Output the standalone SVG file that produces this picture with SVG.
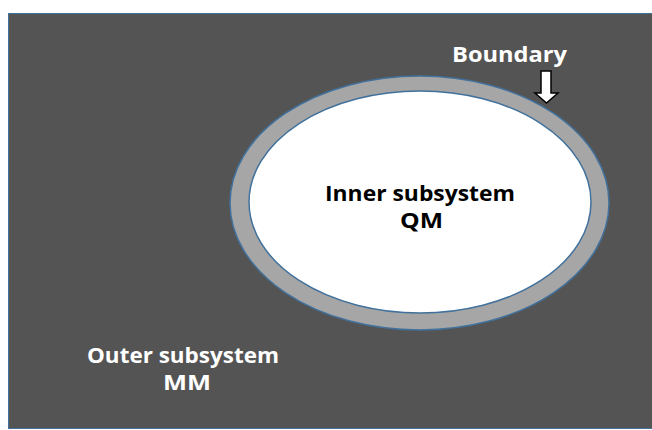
<svg xmlns="http://www.w3.org/2000/svg" width="652" height="430" viewBox="0 0 652 430">
  <style>
    .lbl { font-family: "Open Sans", "Liberation Sans", sans-serif; font-weight: 700; font-size: 21px; text-anchor: middle; }
    .w { fill: #ffffff; }
    .k { fill: #000000; }
  </style>
  <rect x="0" y="0" width="652" height="430" fill="#ffffff"/>
  <g id="outer">
    <rect x="8.5" y="13.5" width="644" height="415" fill="#545454" stroke="#41719C" stroke-width="1"/>
    <text class="lbl w" x="183" y="363" textLength="192" lengthAdjust="spacingAndGlyphs">Outer subsystem</text>
    <text class="lbl w" x="187" y="390" textLength="48" lengthAdjust="spacingAndGlyphs">MM</text>
  </g>
  <g id="boundary">
    <ellipse cx="419.5" cy="203" rx="189.5" ry="127" fill="#A6A6A6" stroke="#41719C" stroke-width="1.5"/>
    <text class="lbl w" x="509.5" y="62" textLength="115" lengthAdjust="spacingAndGlyphs">Boundary</text>
  </g>
  <g id="inner">
    <ellipse cx="420" cy="202" rx="171" ry="111" fill="#ffffff" stroke="#41719C" stroke-width="1.5"/>
    <text class="lbl k" x="420" y="201" textLength="190" lengthAdjust="spacingAndGlyphs">Inner subsystem</text>
    <text class="lbl k" x="421.5" y="228" textLength="43" lengthAdjust="spacingAndGlyphs">QM</text>
  </g>
  <g id="connectors">
    <path d="M541,71 L551,71 L551,93 L558,93 L546.5,103 L535,93 L541,93 Z" fill="#ffffff" stroke="#000000" stroke-width="1.5" stroke-linejoin="miter"/>
  </g>
</svg>
